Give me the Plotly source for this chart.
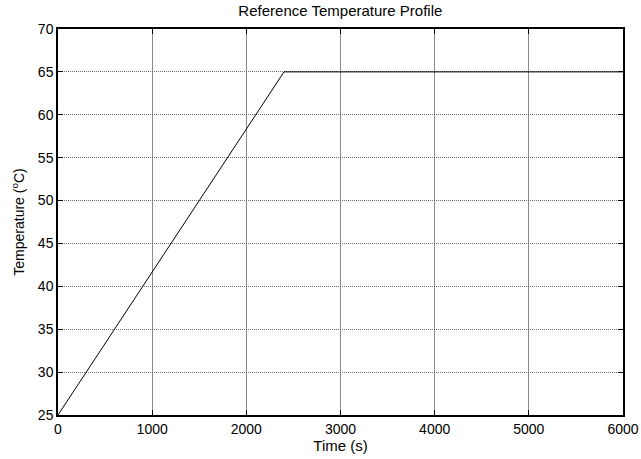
import plotly.graph_objects as go

# Reference temperature profile: linear ramp then hold
ramp_time = [0, 300, 600, 900, 1200, 1500, 1800, 2100, 2400]
ramp_temp = [25, 30, 35, 40, 45, 50, 55, 60, 65]
hold_time = [2400, 6000]
hold_temp = [65, 65]

time_s = ramp_time + hold_time[1:]
temp_c = ramp_temp + hold_temp[1:]

x_ticks = [0, 1000, 2000, 3000, 4000, 5000, 6000]
y_ticks = [25, 30, 35, 40, 45, 50, 55, 60, 65, 70]

font_family = "Liberation Sans, Arial, sans-serif"

fig = go.Figure()
fig.add_trace(go.Scatter(
    x=time_s, y=temp_c, mode="lines",
    line=dict(color="black", width=1),
    showlegend=False,
))

fig.update_layout(
    width=641, height=459,
    margin=dict(l=58, r=18, t=29, b=44),
    paper_bgcolor="white", plot_bgcolor="white",
    font=dict(family=font_family, color="black", size=14),
    title=dict(text="Reference Temperature Profile", x=0.531, xanchor="center",
               y=0.976, yanchor="middle", font=dict(size=15)),
)
fig.update_xaxes(
    range=[0, 6000], tickvals=x_ticks, ticktext=[str(v) for v in x_ticks],
    automargin=False,
    showline=True, linecolor="black", linewidth=1.5, mirror="ticks",
    ticks="inside", ticklen=5, tickcolor="black",
    showgrid=True, gridcolor="#8a8a8a", gridwidth=1,
    zeroline=False,
    title=dict(text="Time (s)", standoff=2, font=dict(size=15)),
)
fig.update_yaxes(
    range=[25, 70], tickvals=y_ticks, ticktext=[str(v) for v in y_ticks],
    automargin=False,
    showline=True, linecolor="black", linewidth=1.5, mirror="ticks",
    ticks="inside", ticklen=5, tickcolor="black",
    showgrid=True, gridcolor="#6e6e6e", gridwidth=1, griddash="1px,1px",
    zeroline=False,
    title=dict(text="Temperature (<sup>o</sup>C)", standoff=10, font=dict(size=14)),
)

fig.write_html("out.html")
